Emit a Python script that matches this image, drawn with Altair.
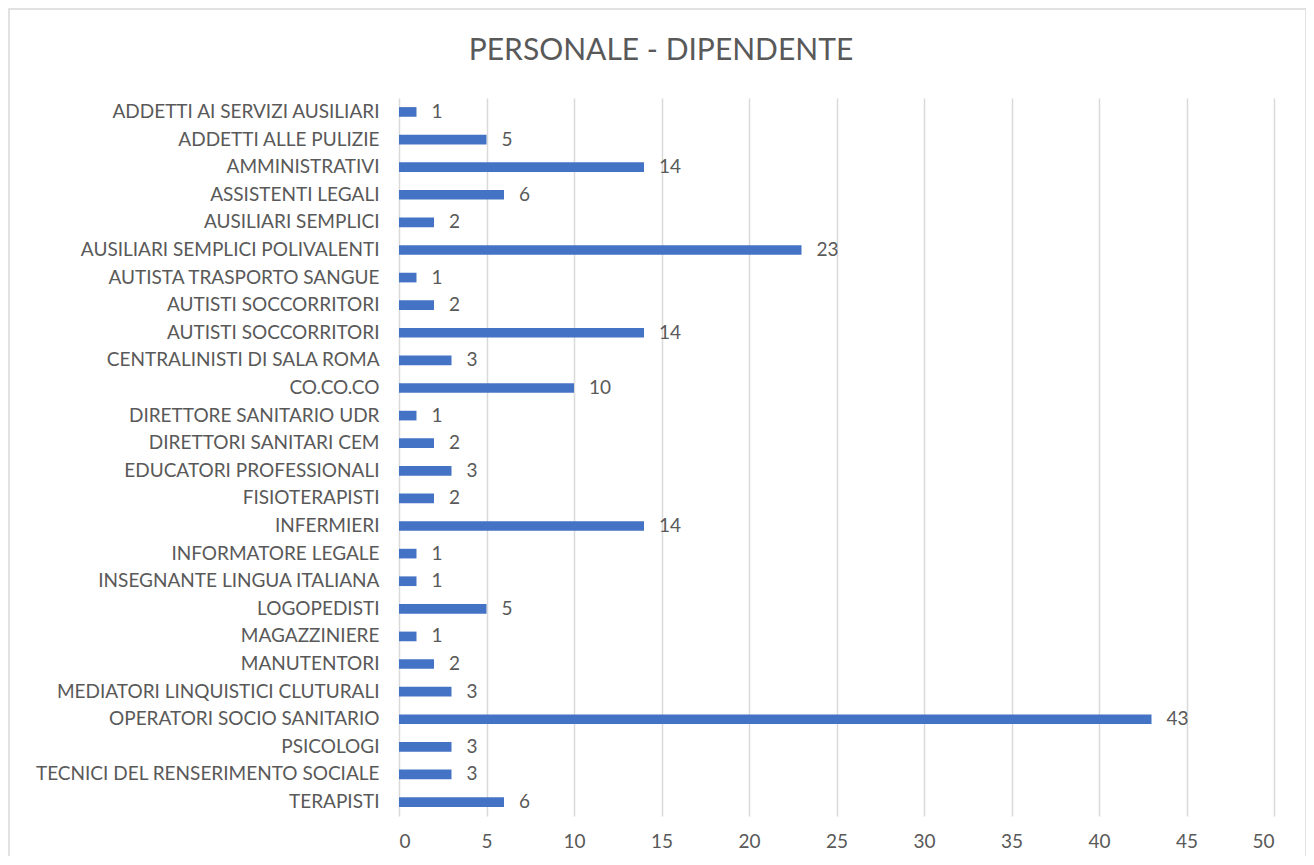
import altair as alt
import pandas as pd
import json

categories = [
    "ADDETTI AI SERVIZI AUSILIARI",
    "ADDETTI ALLE PULIZIE",
    "AMMINISTRATIVI",
    "ASSISTENTI LEGALI",
    "AUSILIARI SEMPLICI",
    "AUSILIARI SEMPLICI POLIVALENTI",
    "AUTISTA TRASPORTO SANGUE",
    "AUTISTI SOCCORRITORI",
    "AUTISTI SOCCORRITORI",
    "CENTRALINISTI DI SALA ROMA",
    "CO.CO.CO",
    "DIRETTORE SANITARIO UDR",
    "DIRETTORI SANITARI CEM",
    "EDUCATORI PROFESSIONALI",
    "FISIOTERAPISTI",
    "INFERMIERI",
    "INFORMATORE LEGALE",
    "INSEGNANTE LINGUA ITALIANA",
    "LOGOPEDISTI",
    "MAGAZZINIERE",
    "MANUTENTORI",
    "MEDIATORI LINQUISTICI CLUTURALI",
    "OPERATORI SOCIO SANITARIO",
    "PSICOLOGI",
    "TECNICI DEL RENSERIMENTO SOCIALE",
    "TERAPISTI",
]
values = [1, 5, 14, 6, 2, 23, 1, 2, 14, 3, 10, 1, 2, 3, 2, 14, 1, 1, 5, 1, 2, 3, 43, 3, 3, 6]
x_ticks = [0, 5, 10, 15, 20, 25, 30, 35, 40, 45, 50]
title_text = ["PERSONALE - DIPENDENTE"]

df = pd.DataFrame({"idx": list(range(len(categories))), "cat": categories, "val": values})

FONT = "Lato"
GREY = "#595959"
FS = 19
label_expr = json.dumps(categories) + "[datum.value]"

y_enc = alt.Y(
    "idx:O",
    sort="ascending",
    scale=alt.Scale(paddingInner=0.65, paddingOuter=0.33),
    axis=alt.Axis(
        title=None, labelExpr=label_expr, ticks=False, domain=False,
        labelFont=FONT, labelFontSize=FS, labelColor=GREY, labelPadding=20,
        labelLimit=400,
    ),
)
x_enc = alt.X(
    "val:Q",
    scale=alt.Scale(domain=[0, 50], nice=False),
    axis=alt.Axis(
        title=None, values=x_ticks, ticks=False, domain=False,
        grid=True, gridColor="#D9D9D9", gridWidth=1.5,
        labelFont=FONT, labelFontSize=FS, labelColor=GREY, labelPadding=16,
    ),
)

base = alt.Chart(df)
bars = base.mark_bar(color="#4472C4").encode(x=x_enc, y=y_enc)
labels = base.mark_text(align="left", baseline="middle", dx=15, font=FONT, fontSize=FS, color=GREY).encode(
    x="val:Q", y=alt.Y("idx:O", sort="ascending"), text="val:Q"
)
border = alt.Chart(pd.DataFrame({"a": [0]})).mark_rect(
    fill=None, stroke="#D9D9D9", strokeWidth=1.5
).encode(
    x=alt.value(-390), x2=alt.value(907), y=alt.value(-89), y2=alt.value(790)
)
title = alt.Chart(pd.DataFrame({"t": title_text})).mark_text(
    font=FONT, fontSize=30, color=GREY, align="center", baseline="alphabetic"
).encode(text="t:N", x=alt.value(262), y=alt.value(-38))

chart = alt.layer(border, bars, labels, title).properties(
    width=875,
    height=718,
    autosize=alt.AutoSizeParams(type="none"),
    padding={"left": 391, "top": 90, "right": 32, "bottom": 40},
).configure_view(stroke=None)

chart.save("out.html", embed_options={"renderer": "svg", "actions": False})
